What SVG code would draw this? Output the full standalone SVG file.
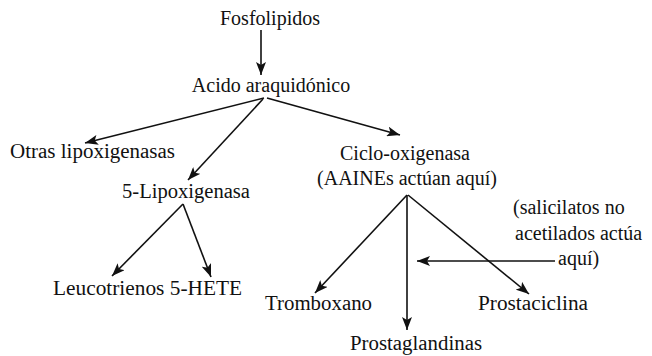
<svg xmlns="http://www.w3.org/2000/svg" width="652" height="356" viewBox="0 0 652 356">
  <style>
    text { font-family: "Liberation Serif", "Times New Roman", serif; font-size: 20px; fill: #111; }
    .c { text-anchor: middle; }
    .edge { stroke: #111; stroke-width: 1.6; fill: none; marker-end: url(#ah); }
  </style>
  <defs>
    <marker id="ah" markerUnits="userSpaceOnUse" markerWidth="14" markerHeight="10" refX="13" refY="5" orient="auto">
      <path d="M0,0 L13,5 L0,10 L3,5 z" fill="#111"/>
    </marker>
  </defs>
  <rect width="652" height="356" fill="#fff"/>

  <g id="connectors">
    <line class="edge" x1="261" y1="30" x2="261" y2="75"/>
    <line class="edge" x1="264" y1="98" x2="85" y2="143"/>
    <line class="edge" x1="263" y1="99" x2="188" y2="180"/>
    <line class="edge" x1="267" y1="98" x2="400" y2="135"/>
    <line class="edge" x1="183" y1="204" x2="112" y2="276"/>
    <line class="edge" x1="183" y1="204" x2="211" y2="277"/>
    <line class="edge" x1="407" y1="195" x2="315" y2="293"/>
    <line class="edge" x1="407" y1="195" x2="407" y2="330"/>
    <line class="edge" x1="408" y1="195" x2="529" y2="294"/>
    <line class="edge" x1="555" y1="261" x2="417" y2="261"/>
  </g>

  <g id="fosfolipidos"><text class="c" x="270" y="25">Fosfolipidos</text></g>
  <g id="acido"><text class="c" x="271" y="92">Acido araquidónico</text></g>
  <g id="otras"><text x="10" y="158" textLength="165" lengthAdjust="spacingAndGlyphs">Otras lipoxigenasas</text></g>
  <g id="lipox5"><text x="122" y="198" textLength="128" lengthAdjust="spacingAndGlyphs">5-Lipoxigenasa</text></g>
  <g id="ciclo">
    <text class="c" x="405" y="160">Ciclo-oxigenasa</text>
    <text class="c" x="407" y="185">(AAINEs actúan aquí)</text>
  </g>
  <g id="salicilatos">
    <text x="513" y="214">(salicilatos no</text>
    <text x="515" y="240">acetilados actúa</text>
    <text x="558" y="265">aquí)</text>
  </g>
  <g id="leucotrienos"><text x="53" y="295" textLength="189" lengthAdjust="spacingAndGlyphs">Leucotrienos 5-HETE</text></g>
  <g id="tromboxano"><text x="265" y="310" textLength="107" lengthAdjust="spacingAndGlyphs">Tromboxano</text></g>
  <g id="prostaciclina"><text x="478" y="310" textLength="110" lengthAdjust="spacingAndGlyphs">Prostaciclina</text></g>
  <g id="prostaglandinas"><text x="350" y="350" textLength="132" lengthAdjust="spacingAndGlyphs">Prostaglandinas</text></g>
</svg>
